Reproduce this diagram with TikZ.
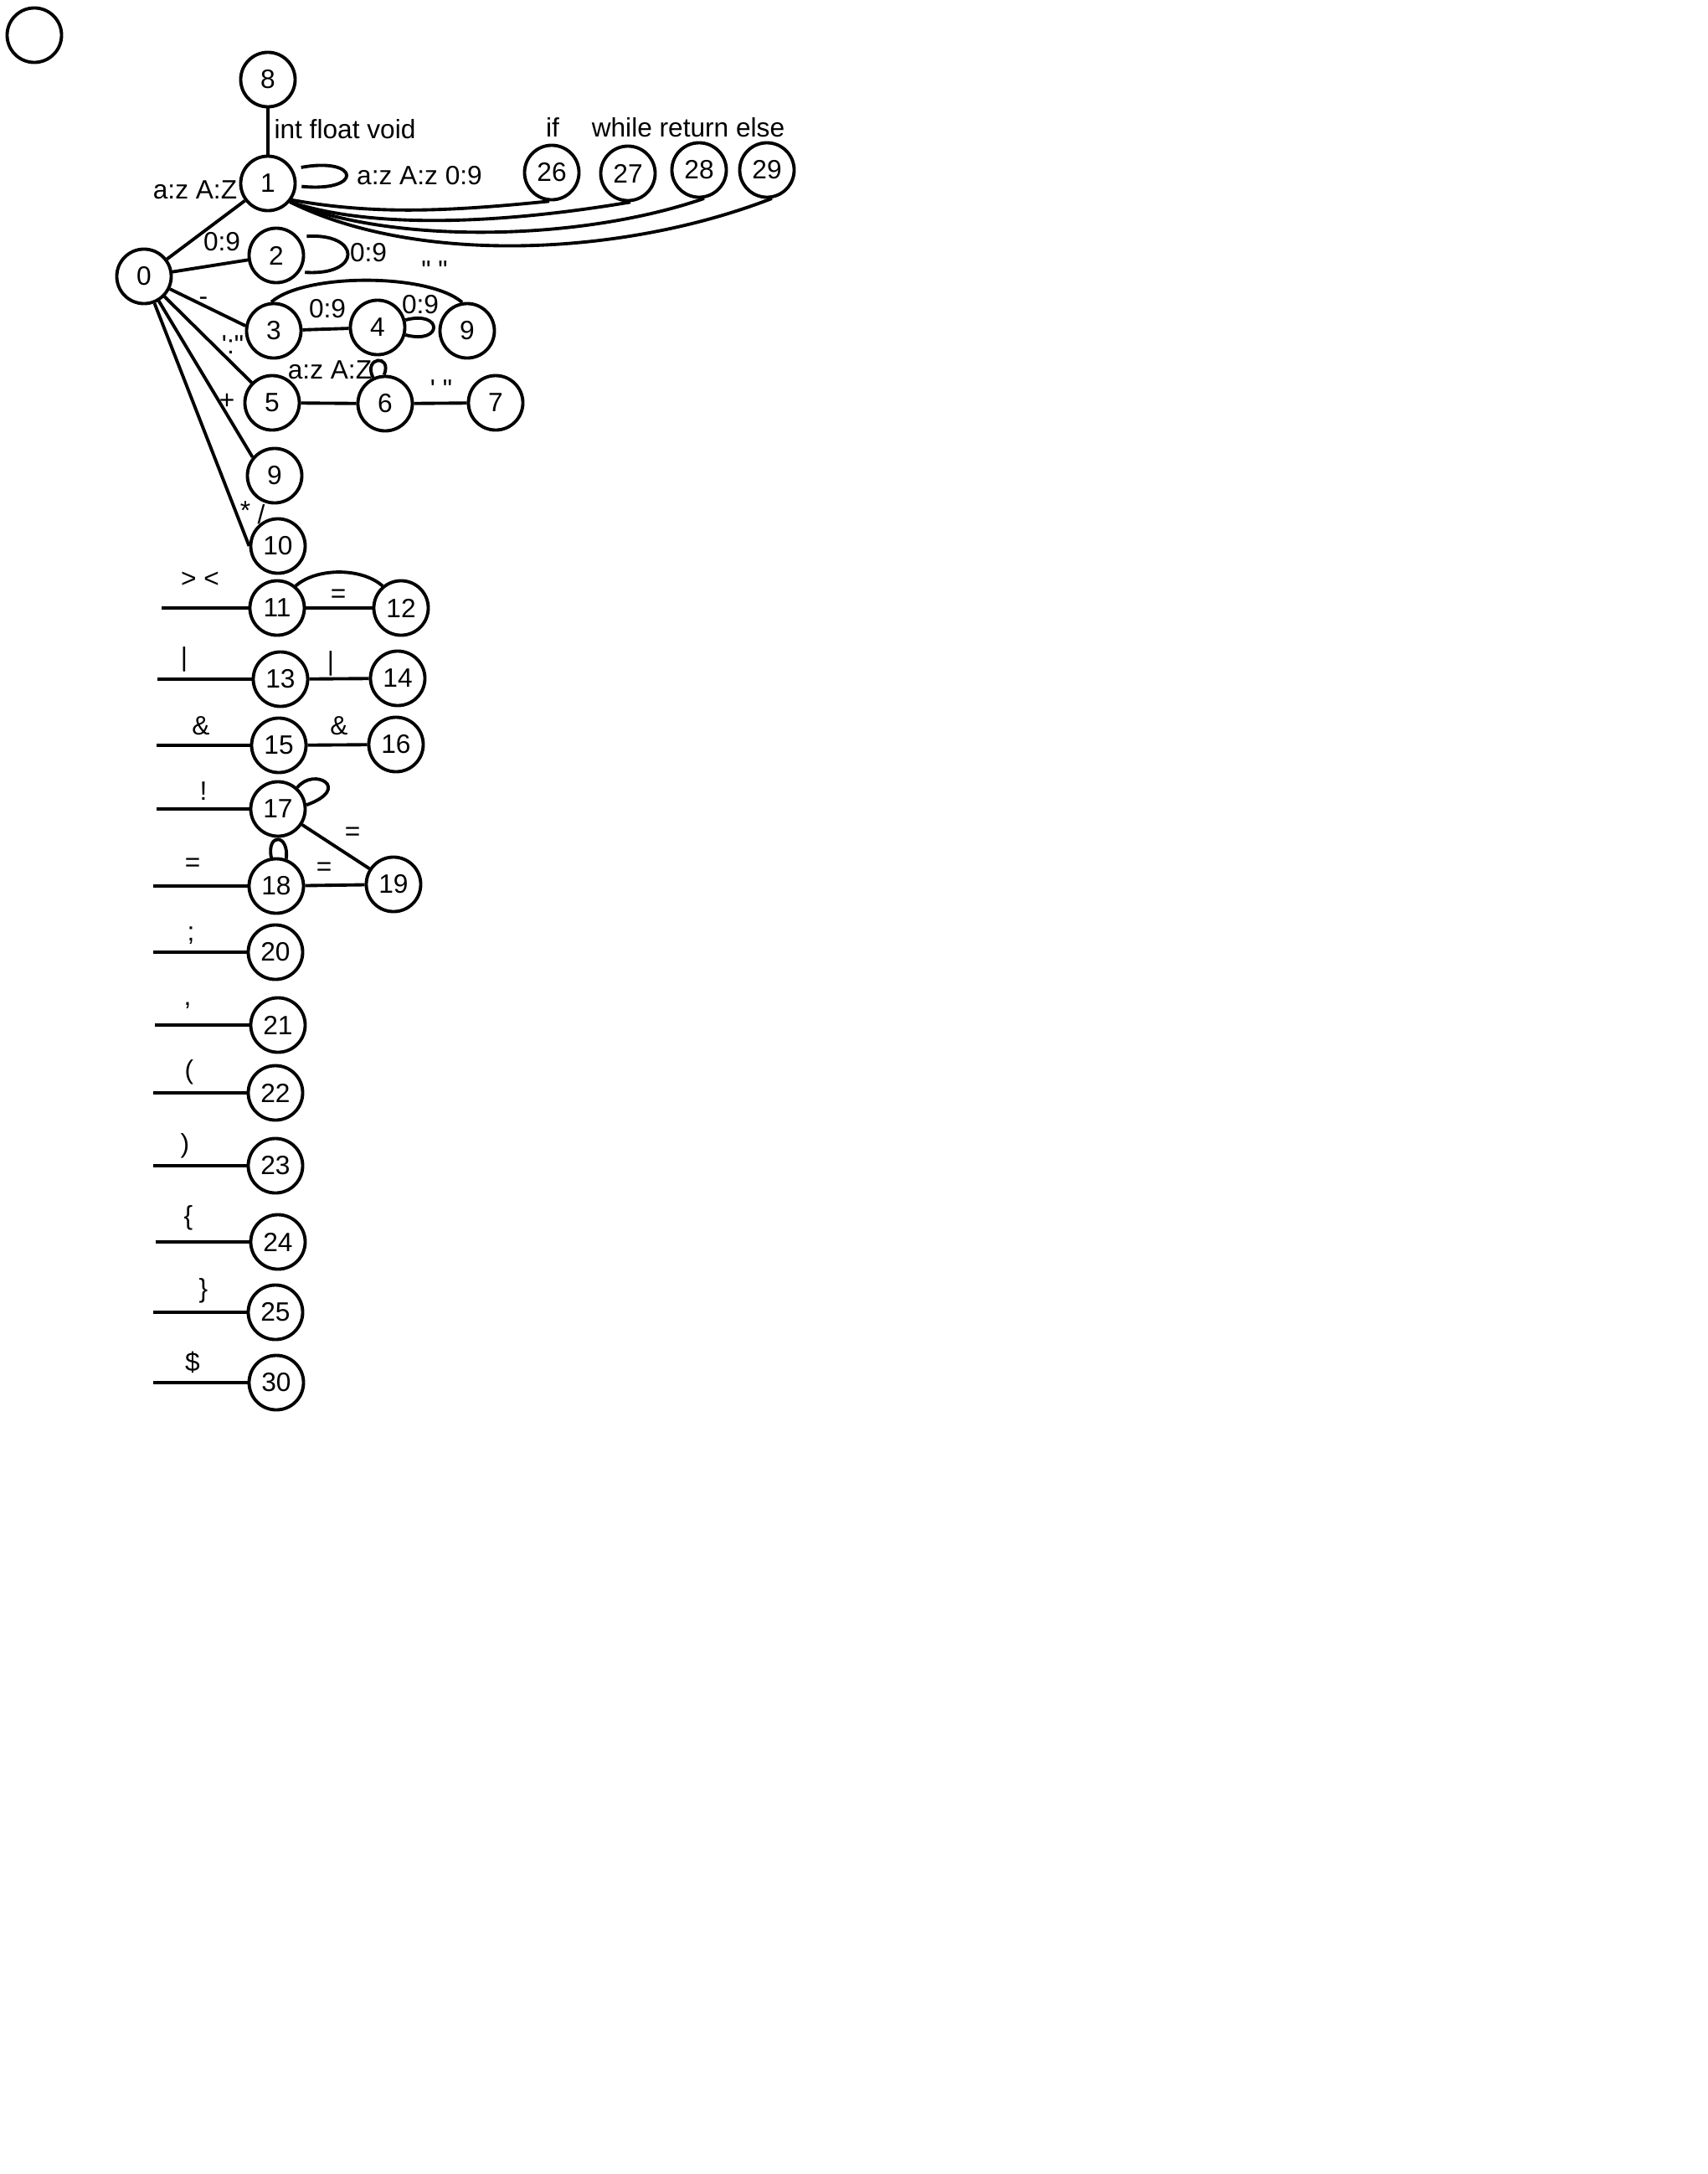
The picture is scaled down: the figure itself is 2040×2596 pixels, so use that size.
\documentclass[tikz,border=0pt]{standalone}
\usepackage{fontspec}
\setmainfont{Liberation Sans}[Ligatures=TeXOff]
\usepackage{tikz}

\begin{document}
\begin{tikzpicture}[
  x=0.01cm, y=0.01cm,
  font=\fontsize{9pt}{11pt}\selectfont,
  stnode/.style={draw, circle, line width=1.1pt, minimum size=0.65cm, inner sep=0pt},
  lbl/.style={inner sep=0pt},
  trans/.style={line width=1.1pt},
  gaploop/.style={line width=1.1pt, shorten <=1mm, shorten >=0.6mm}]
  \useasboundingbox (0,0) rectangle (2040,-2596);
  % states
  \node[stnode] (blank) at (41,-42) {};
  \node[stnode] (n8) at (320,-95) {8};
  \node[stnode] (n1) at (320,-219) {1};
  \node[stnode] (n0) at (172,-330) {0};
  \node[stnode] (n2) at (330,-305) {2};
  \node[stnode] (n3) at (327,-395) {3};
  \node[stnode] (n4) at (451,-391) {4};
  \node[stnode] (n9a) at (558,-395) {9};
  \node[stnode] (n5) at (325,-481) {5};
  \node[stnode] (n6) at (460,-482) {6};
  \node[stnode] (n7) at (592,-481) {7};
  \node[stnode] (n9b) at (328,-568) {9};
  \node[stnode] (n10) at (332,-652) {10};
  \node[stnode] (n26) at (659,-206) {26};
  \node[stnode] (n27) at (750,-207) {27};
  \node[stnode] (n28) at (835,-203) {28};
  \node[stnode] (n29) at (916,-203) {29};
  \node[stnode] (n11) at (331,-726) {11};
  \node[stnode] (n12) at (479,-726) {12};
  \node[stnode] (n13) at (335,-811) {13};
  \node[stnode] (n14) at (475,-810) {14};
  \node[stnode] (n15) at (333,-890) {15};
  \node[stnode] (n16) at (473,-889) {16};
  \node[stnode] (n17) at (332,-966) {17};
  \node[stnode] (n18) at (330,-1058) {18};
  \node[stnode] (n19) at (470,-1056) {19};
  \node[stnode] (n20) at (329,-1137) {20};
  \node[stnode] (n21) at (332,-1224) {21};
  \node[stnode] (n22) at (329,-1305) {22};
  \node[stnode] (n23) at (329,-1392) {23};
  \node[stnode] (n24) at (332,-1483) {24};
  \node[stnode] (n25) at (329,-1567) {25};
  \node[stnode] (n30) at (330,-1651) {30};
  % transitions from 0
  \draw[trans] (n8) -- (n1);
  \draw[trans] (n0) -- (n1);
  \draw[trans] (n0) -- (n2);
  \draw[trans] (n0) -- (n3.170);
  \draw[trans] (n0) -- (n5);
  \draw[trans] (n0) -- (n9b.140);
  \draw[trans] (n0) -- (n10.west);
  \draw[trans] (n3) -- (n4);
  \draw[trans] (n5) -- (n6);
  \draw[trans] (n6) -- (n7);
  \draw[trans] (n3.95) .. controls +(40,35) and +(-40,35) .. (n9a.100);
  % keywords
  \draw[trans] (n1.-35) .. controls +(100,-18) and +(-120,-12) .. (n26.-95);
  \draw[trans] (n1.-40) .. controls +(110,-36) and +(-130,-22) .. (n27.-85);
  \draw[trans] (n1.-40) .. controls +(120,-50) and +(-150,-52) .. (n28.-80);
  \draw[trans] (n1.-40) .. controls +(150,-75) and +(-180,-70) .. (n29.-80);
  % self loops
  \draw[gaploop] (n1.30) .. controls +(80,15) and +(80,-8) .. (n1.-5);
  \draw[gaploop] (n2.40) .. controls +(75,5) and +(75,-5) .. (n2.-35);
  \draw[trans] (n4.15) .. controls +(45,12) and +(45,-12) .. (n4.-15);
  \draw[trans] (n6.115) .. controls +(-12,25) and +(10,25) .. (n6.92);
  \draw[trans] (n17.48) .. controls +(20,25) and +(55,20) .. (n17.8);
  \draw[trans] (n18.100) .. controls +(-6,30) and +(4,30) .. (n18.70);
  % operators
  \coordinate (s11) at (193,-726);
  \coordinate (s13) at (188,-811);
  \coordinate (s15) at (187,-890);
  \coordinate (s17) at (187,-966);
  \coordinate (s18) at (183,-1058);
  \coordinate (s20) at (183,-1137);
  \coordinate (s21) at (185,-1224);
  \coordinate (s22) at (183,-1305);
  \coordinate (s23) at (183,-1392);
  \coordinate (s24) at (186,-1483);
  \coordinate (s25) at (183,-1567);
  \coordinate (s30) at (183,-1651);
  \draw[trans] (s11) -- (n11);
  \draw[trans] (s13) -- (n13);
  \draw[trans] (s15) -- (n15);
  \draw[trans] (s17) -- (n17);
  \draw[trans] (s18) -- (n18);
  \draw[trans] (s20) -- (n20);
  \draw[trans] (s21) -- (n21);
  \draw[trans] (s22) -- (n22);
  \draw[trans] (s23) -- (n23);
  \draw[trans] (s24) -- (n24);
  \draw[trans] (s25) -- (n25);
  \draw[trans] (s30) -- (n30);
  \draw[trans] (n11) -- (n12);
  \draw[trans] (n11.50) .. controls +(25,22) and +(-25,22) .. (n12.130);
  \draw[trans] (n13) -- (n14);
  \draw[trans] (n15) -- (n16);
  \draw[trans] (n17) -- (n19);
  \draw[trans] (n18) -- (n19);
  % labels
  \node[lbl] (lkw) at (412,-154) {int float void};
  \node[lbl] (lid) at (501,-210) {a:z A:z 0:9};
  \node[lbl] (lletter) at (233,-227) {a:z A:Z};
  \node[lbl] (lif) at (660,-152) {if};
  \node[lbl] (lwre) at (822,-152) {while return else};
  \node[lbl] (ldig) at (265,-289) {0:9};
  \node[lbl] (ldigloop) at (440,-302) {0:9};
  \node[lbl] (lqq) at (519,-323) {" "};
  \node[lbl] (lminus) at (243,-360) {-};
  \node[lbl] (ldig34) at (391,-369) {0:9};
  \node[lbl] (ldig4) at (502,-364) {0:9};
  \node[lbl] (lquote) at (278,-412) {':"};
  \node[lbl] (lstr) at (394,-442) {a:z A:Z};
  \node[lbl] (lplus) at (271,-479) {+};
  \node[lbl] (lq67) at (527,-465) {' "};
  \node[lbl] (lstar) at (293,-610) {*};
  \node[lbl] (lslash) at (312,-614) {/};
  \node[lbl] (lgtlt) at (239,-692) {> <};
  \node[lbl] (leq11) at (404,-712) {=};
  \node[lbl] (lbar13) at (220,-787) {|};
  \node[lbl] (lbar14) at (395,-792) {|};
  \node[lbl] (lamp15) at (240,-867) {\&};
  \node[lbl] (lamp16) at (405,-867) {\&};
  \node[lbl] (lnot) at (243,-945) {!};
  \node[lbl] (leq17) at (421,-996) {=};
  \node[lbl] (leq18) at (230,-1033) {=};
  \node[lbl] (leq19) at (387,-1038) {=};
  \node[lbl] (lsemi) at (228,-1117) {;};
  \node[lbl] (lcomma) at (224,-1201) {,};
  \node[lbl] (llpar) at (226,-1280) {(};
  \node[lbl] (lrpar) at (221,-1368) {)};
  \node[lbl] (llbr) at (225,-1454) {\{};
  \node[lbl] (lrbr) at (243,-1541) {\}};
  \node[lbl] (ldollar) at (230,-1627) {\$};
\end{tikzpicture}
\end{document}
